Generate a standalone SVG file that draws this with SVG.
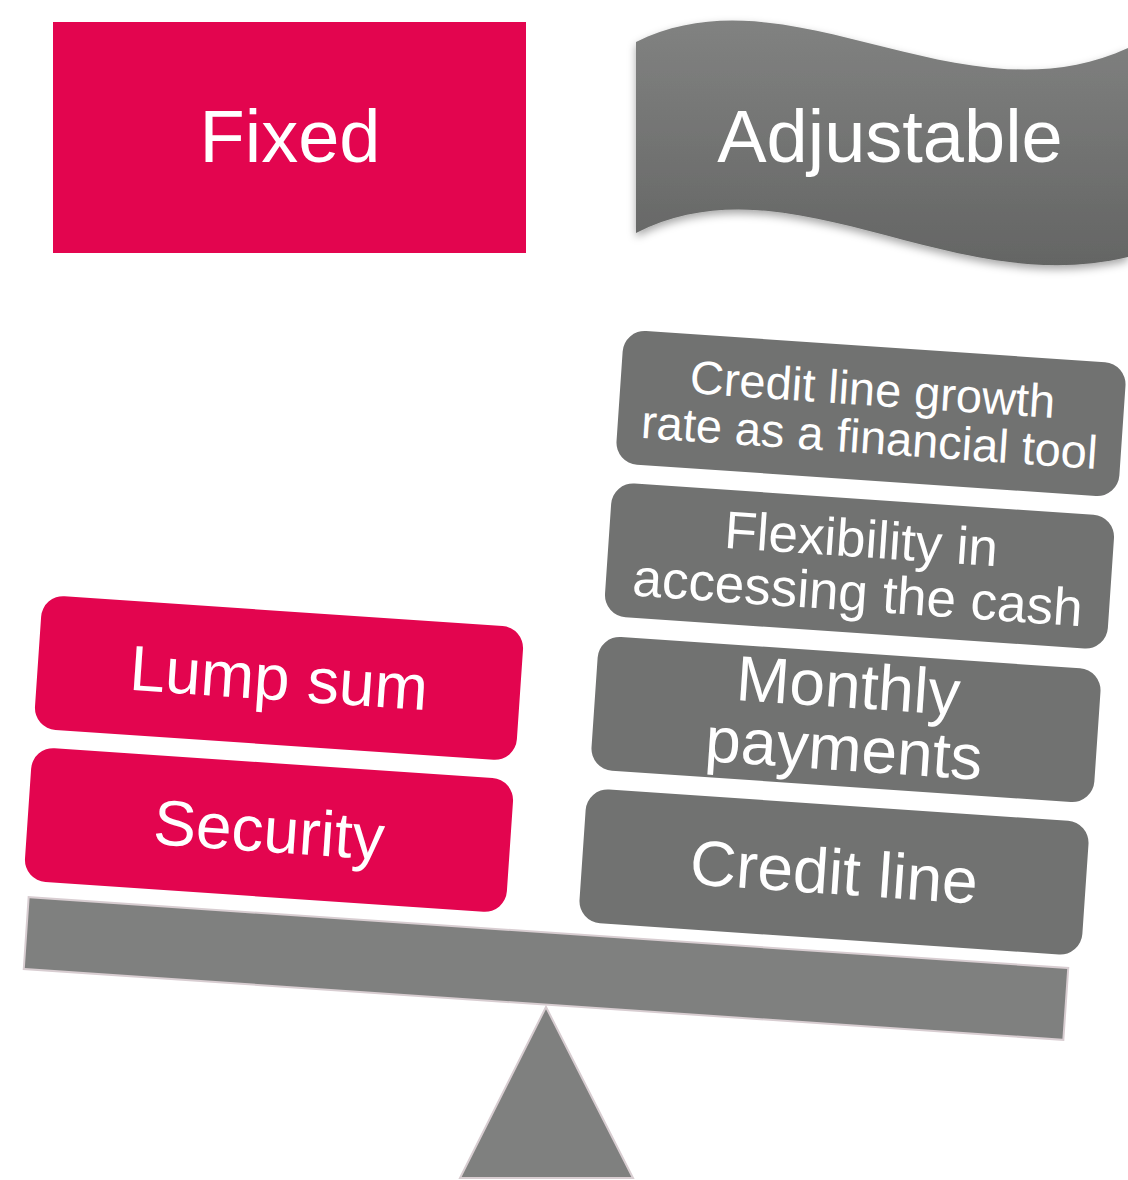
<svg xmlns="http://www.w3.org/2000/svg" width="1128" height="1180" viewBox="0 0 1128 1180">
  <style>
    .lbl { font-family: "Liberation Sans", Arial, sans-serif; fill: #ffffff; text-anchor: middle; }
    .pink { fill: #e3054f; }
    .gray { fill: #717271; }
    .stand { fill: #7f807f; stroke: #d8cdd1; stroke-width: 2; }
  </style>
  <defs>
    <linearGradient id="bannerFill" x1="0" y1="0" x2="0" y2="1">
      <stop offset="0" stop-color="#818281"/>
      <stop offset="1" stop-color="#646564"/>
    </linearGradient>
    <filter id="softShadow" x="-10%" y="-20%" width="120%" height="150%">
      <feDropShadow dx="0" dy="4" stdDeviation="4" flood-color="#000000" flood-opacity="0.35"/>
    </filter>
  </defs>

  <!-- header: fixed -->
  <g id="fixed">
    <rect class="pink" x="53" y="22" width="473" height="231"/>
    <text class="lbl" x="290" y="162" font-size="74">Fixed</text>
  </g>

  <!-- header: adjustable (wave banner) -->
  <g id="adjustable">
    <path fill="url(#bannerFill)" filter="url(#softShadow)"
          d="M636,42 C790,-35 960,125 1128,48 L1128,257 C950,300 790,155 636,233 Z"/>
    <text class="lbl" x="890" y="162" font-size="74">Adjustable</text>
  </g>

  <!-- seesaw -->
  <g id="seesaw">
    <polygon class="stand" points="546,1007 633,1178 460,1178"/>
    <g transform="translate(546,968.5) rotate(3.9)">
      <rect class="stand" x="-521" y="-36" width="1042" height="72"/>
    </g>
  </g>

  <!-- left pan -->
  <g id="lump-sum" transform="translate(279,678) rotate(3.9)">
    <rect class="pink" x="-241.5" y="-67" width="483" height="134" rx="22"/>
    <text class="lbl" x="0" y="22" font-size="64">Lump sum</text>
  </g>
  <g id="security" transform="translate(269,830) rotate(3.9)">
    <rect class="pink" x="-241.5" y="-67" width="483" height="134" rx="22"/>
    <text class="lbl" x="0" y="22" font-size="64">Security</text>
  </g>

  <!-- right pan -->
  <g id="credit-growth" transform="translate(871,413.5) rotate(3.9)">
    <rect class="gray" x="-252" y="-67" width="504" height="134" rx="22"/>
    <text class="lbl" x="0" y="-8" font-size="47">Credit line growth</text>
    <text class="lbl" x="0" y="40" font-size="47">rate as a financial tool</text>
  </g>
  <g id="flexibility" transform="translate(859.5,566) rotate(3.9)">
    <rect class="gray" x="-252" y="-67" width="504" height="134" rx="22"/>
    <text class="lbl" x="0" y="-9" font-size="53">Flexibility in</text>
    <text class="lbl" x="0" y="45" font-size="53">accessing the cash</text>
  </g>
  <g id="monthly" transform="translate(846,719.5) rotate(3.9)">
    <rect class="gray" x="-252" y="-67" width="504" height="134" rx="22"/>
    <text class="lbl" x="0" y="-12" font-size="64">Monthly</text>
    <text class="lbl" x="0" y="51" font-size="64">payments</text>
  </g>
  <g id="credit-line" transform="translate(834,872) rotate(3.9)">
    <rect class="gray" x="-252" y="-67" width="504" height="134" rx="22"/>
    <text class="lbl" x="0" y="22" font-size="64">Credit line</text>
  </g>

  <!-- no connectors in this figure -->
  <g id="connectors"/>
</svg>
